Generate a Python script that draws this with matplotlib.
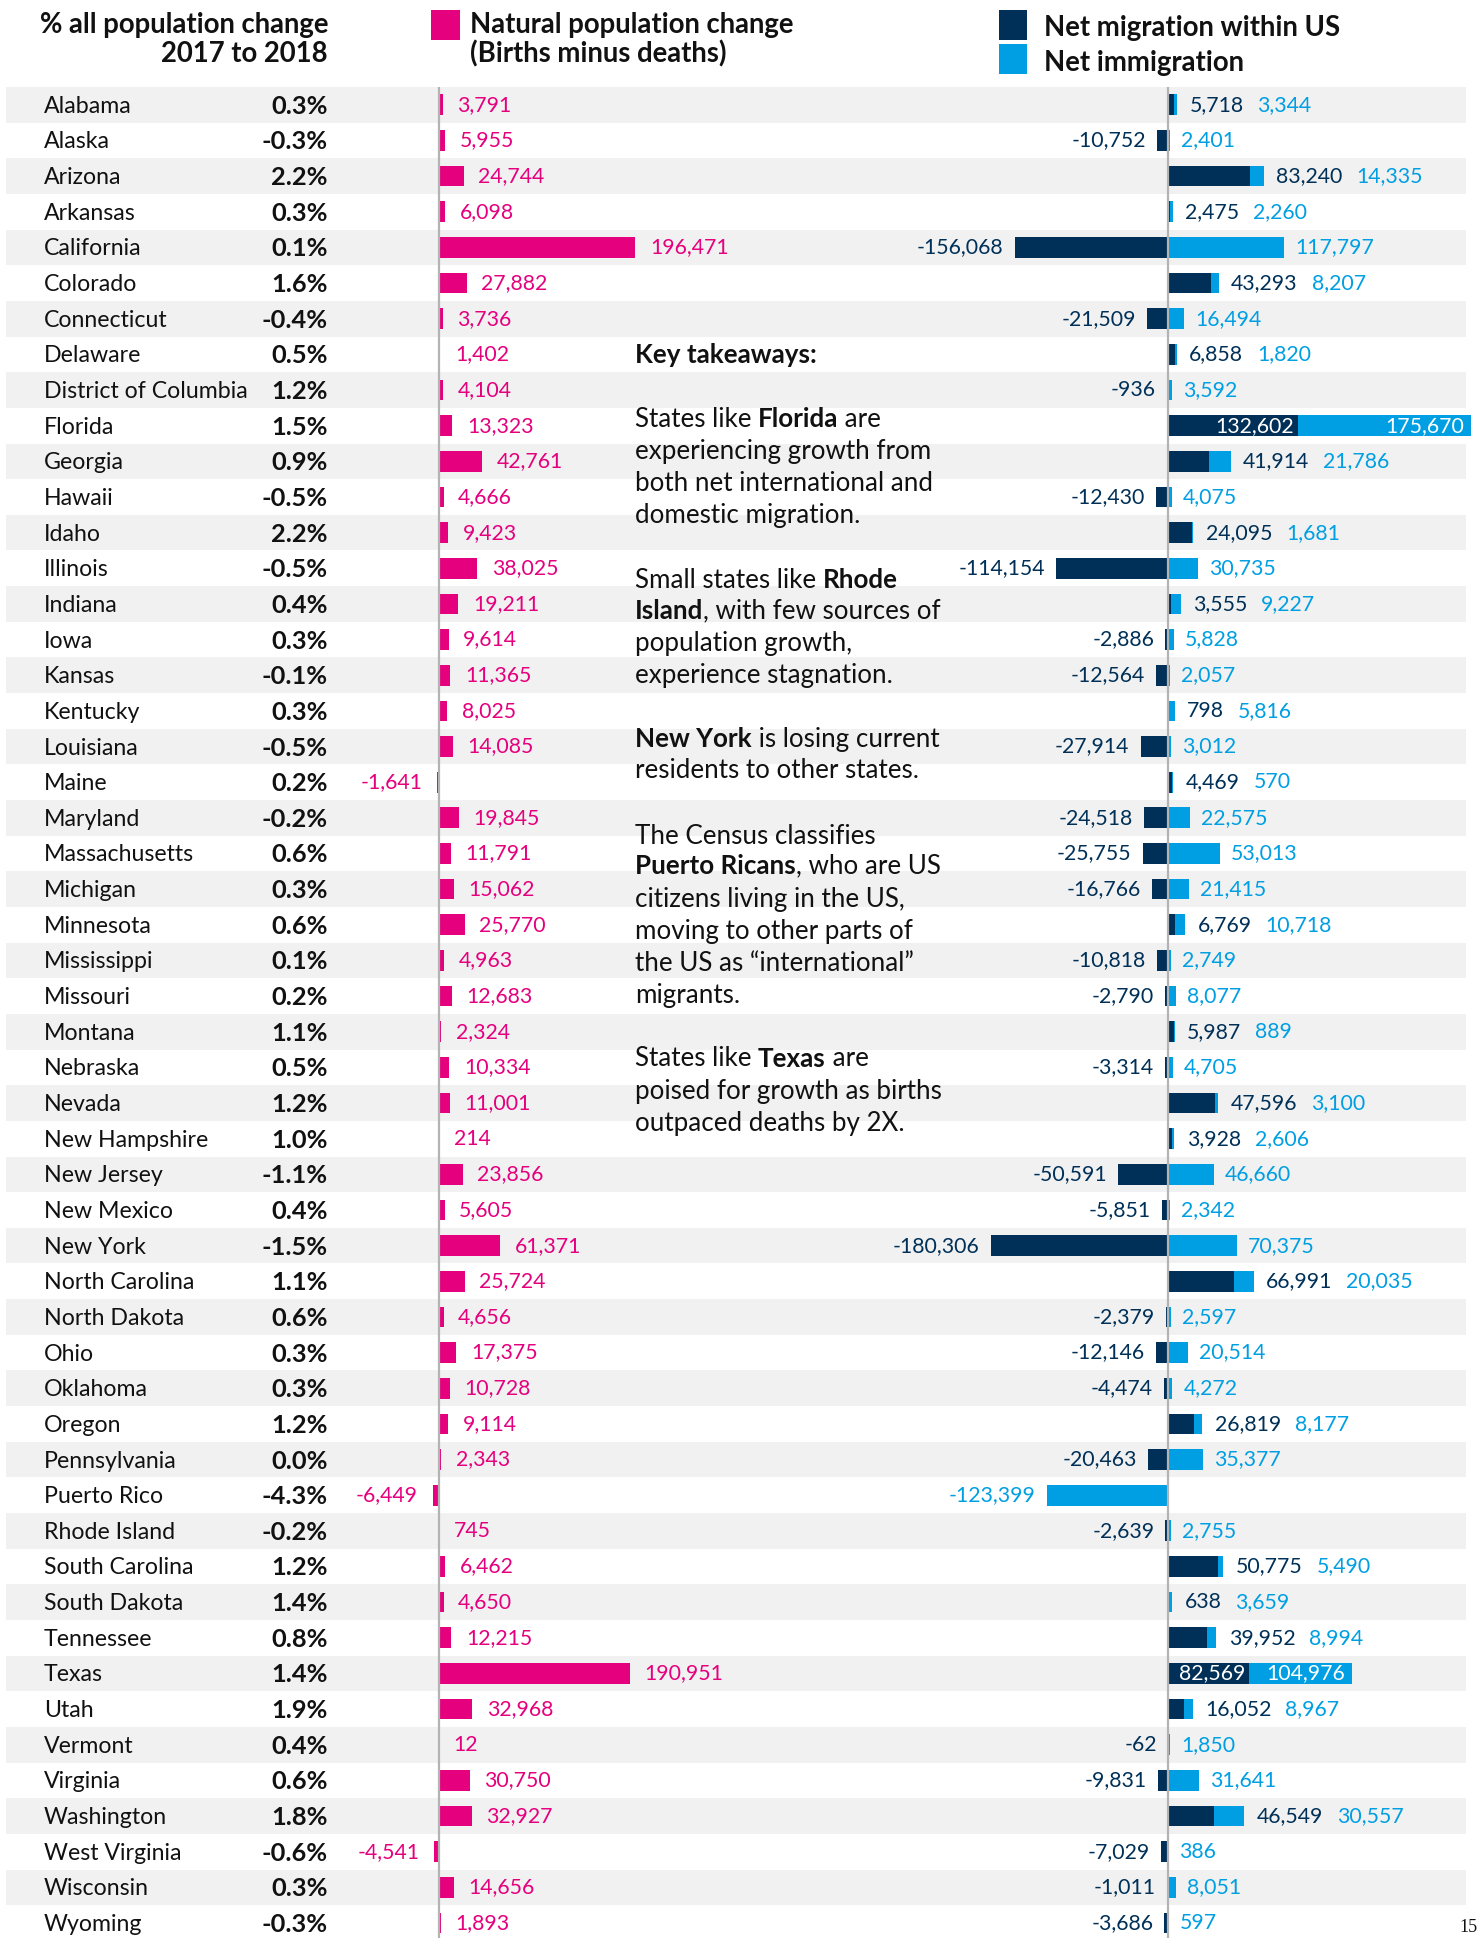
import matplotlib.pyplot as plt
from matplotlib.patches import Rectangle

# data
states = ['Alabama', 'Alaska', 'Arizona', 'Arkansas', 'California', 'Colorado', 'Connecticut',
          'Delaware', 'District of Columbia', 'Florida', 'Georgia', 'Hawaii', 'Idaho', 'Illinois',
          'Indiana', 'Iowa', 'Kansas', 'Kentucky', 'Louisiana', 'Maine', 'Maryland',
          'Massachusetts', 'Michigan', 'Minnesota', 'Mississippi', 'Missouri', 'Montana',
          'Nebraska', 'Nevada', 'New Hampshire', 'New Jersey', 'New Mexico', 'New York',
          'North Carolina', 'North Dakota', 'Ohio', 'Oklahoma', 'Oregon', 'Pennsylvania',
          'Puerto Rico', 'Rhode Island', 'South Carolina', 'South Dakota', 'Tennessee', 'Texas',
          'Utah', 'Vermont', 'Virginia', 'Washington', 'West Virginia', 'Wisconsin', 'Wyoming']
pct_change = ['0.3%', '-0.3%', '2.2%', '0.3%', '0.1%', '1.6%', '-0.4%', '0.5%', '1.2%', '1.5%',
              '0.9%', '-0.5%', '2.2%', '-0.5%', '0.4%', '0.3%', '-0.1%', '0.3%', '-0.5%', '0.2%',
              '-0.2%', '0.6%', '0.3%', '0.6%', '0.1%', '0.2%', '1.1%', '0.5%', '1.2%', '1.0%',
              '-1.1%', '0.4%', '-1.5%', '1.1%', '0.6%', '0.3%', '0.3%', '1.2%', '0.0%', '-4.3%',
              '-0.2%', '1.2%', '1.4%', '0.8%', '1.4%', '1.9%', '0.4%', '0.6%', '1.8%', '-0.6%',
              '0.3%', '-0.3%']
natural = [3791, 5955, 24744, 6098, 196471, 27882, 3736, 1402, 4104, 13323, 42761, 4666, 9423,
           38025, 19211, 9614, 11365, 8025, 14085, -1641, 19845, 11791, 15062, 25770, 4963,
           12683, 2324, 10334, 11001, 214, 23856, 5605, 61371, 25724, 4656, 17375, 10728, 9114,
           2343, -6449, 745, 6462, 4650, 12215, 190951, 32968, 12, 30750, 32927, -4541, 14656,
           1893]
domestic = [5718, -10752, 83240, 2475, -156068, 43293, -21509, 6858, -936, 132602, 41914,
            -12430, 24095, -114154, 3555, -2886, -12564, 798, -27914, 4469, -24518, -25755,
            -16766, 6769, -10818, -2790, 5987, -3314, 47596, 3928, -50591, -5851, -180306,
            66991, -2379, -12146, -4474, 26819, -20463, None, -2639, 50775, 638, 39952, 82569,
            16052, -62, -9831, 46549, -7029, -1011, -3686]
immigration = [3344, 2401, 14335, 2260, 117797, 8207, 16494, 1820, 3592, 175670, 21786, 4075,
               1681, 30735, 9227, 5828, 2057, 5816, 3012, 570, 22575, 53013, 21415, 10718, 2749,
               8077, 889, 4705, 3100, 2606, 46660, 2342, 70375, 20035, 2597, 20514, 4272, 8177,
               35377, -123399, 2755, 5490, 3659, 8994, 104976, 8967, 1850, 31641, 30557, 386,
               8051, 597]

PINK = '#e5007e'
NAVY = '#003057'
BLUE = '#009fe3'
GRID = '#b3b3b3'
TXT = '#111111'

plt.rcParams['font.family'] = ['Lato', 'DejaVu Sans']

W, H = 1482, 1938
fig = plt.figure(figsize=(W / 100, H / 100), dpi=100)

n = len(states)
top = 87
pitch = 35.65
rows_h = n * pitch
LBL = 15.3     # number labels
HEAD = 19.8    # header text

# background axes in pixel coordinates
bg = fig.add_axes([0, 0, 1, 1])
bg.set_xlim(0, W)
bg.set_ylim(H, 0)
bg.axis('off')

for i in range(0, n, 2):
    bg.add_patch(Rectangle((6, top + i * pitch), 1460, pitch, color='#f1f1f1', lw=0, zorder=0))

for i, (s, p) in enumerate(zip(states, pct_change)):
    yc = top + (i + 0.5) * pitch + 1.5
    bg.text(44, yc, s, fontsize=16.7, color=TXT, va='center', ha='left')
    bg.text(328, yc, p, fontsize=18.3, fontweight='bold', color=TXT, va='center', ha='right')

# header / legend
bg.text(328, 25, '% all population change', fontsize=HEAD, fontweight='bold', ha='right', va='center', color=TXT)
bg.text(328, 54, '2017 to 2018', fontsize=HEAD, fontweight='bold', ha='right', va='center', color=TXT)
bg.add_patch(Rectangle((431, 10), 29, 30, color=PINK, lw=0))
bg.text(470, 25, 'Natural population change', fontsize=HEAD, fontweight='bold', ha='left', va='center', color=TXT)
bg.text(470, 54, '(Births minus deaths)', fontsize=HEAD, fontweight='bold', ha='left', va='center', color=TXT)
bg.add_patch(Rectangle((999, 10), 28, 30, color=NAVY, lw=0))
bg.add_patch(Rectangle((999, 44), 28, 30, color=BLUE, lw=0))
bg.text(1044, 28, 'Net migration within US', fontsize=HEAD, fontweight='bold', ha='left', va='center', color=TXT)
bg.text(1044, 63, 'Net immigration', fontsize=HEAD, fontweight='bold', ha='left', va='center', color=TXT)

bg.text(1478, 1928, '15', fontsize=13, family='Liberation Serif', ha='right', va='center', color=TXT)


def rich(y, parts, x=635, size=18.7):
    prev = None
    for txt, bold in parts:
        w = 'bold' if bold else 'normal'
        if prev is None:
            prev = bg.text(x, y, txt, fontsize=size, fontweight=w, va='center', ha='left', color=TXT)
        else:
            prev = bg.annotate(txt, xy=(1, 0.5), xycoords=prev, va='center', ha='left',
                               fontsize=size, fontweight=w, color=TXT)


notes = [
    (355, [('Key takeaways:', True)]),
    (419, [('States like ', False), ('Florida', True), (' are', False)]),
    (451, [('experiencing growth from', False)]),
    (483, [('both net international and', False)]),
    (515, [('domestic migration.', False)]),
    (580, [('Small states like ', False), ('Rhode', True)]),
    (611, [('Island', True), (', with few sources of', False)]),
    (643, [('population growth,', False)]),
    (675, [('experience stagnation.', False)]),
    (739, [('New York', True), (' is losing current', False)]),
    (771, [('residents to other states.', False)]),
    (836, [('The Census classifies', False)]),
    (866, [('Puerto Ricans', True), (', who are US', False)]),
    (899, [('citizens living in the US,', False)]),
    (931, [('moving to other parts of', False)]),
    (963, [('the US as \u201cinternational\u201d', False)]),
    (995, [('migrants.', False)]),
    (1059, [('States like ', False), ('Texas', True), (' are', False)]),
    (1091, [('poised for growth as births', False)]),
    (1124, [('outpaced deaths by 2X.', False)]),
]
for y, parts in notes:
    rich(y, parts)

# bar axes
ax_pos = [0, 1 - (top + rows_h) / H, 1, rows_h / H]
rows = list(range(n))
bar_h = 0.58

nat = fig.add_axes(ax_pos)
nat.patch.set_visible(False)
k1 = 1000
nat.set_xlim(-439 * k1, (W - 439) * k1)
nat.set_ylim(n - 0.5, -0.5)
nat.axis('off')
nat.barh(rows, natural, height=bar_h, color=PINK, zorder=2)
nat.axvline(0, color=GRID, lw=1.6, zorder=3)
for i, v in enumerate(natural):
    if v >= 0:
        nat.annotate(f'{v:,}', (v, i), xytext=(10.5, 0), textcoords='offset points',
                     ha='left', va='center', fontsize=LBL, color=PINK)
    else:
        nat.annotate(f'{v:,}', (v, i), xytext=(-11, 0), textcoords='offset points',
                     ha='right', va='center', fontsize=LBL, color=PINK)

mig = fig.add_axes(ax_pos)
mig.patch.set_visible(False)
k2 = 1017
mig.set_xlim(-1168 * k2, (W - 1168) * k2)
mig.set_ylim(n - 0.5, -0.5)
mig.axis('off')

dom_vals = [d if d is not None else 0 for d in domestic]
imm_left = [d if (d > 0 and m > 0) else 0 for d, m in zip(dom_vals, immigration)]
mig.barh(rows, dom_vals, height=bar_h, color=NAVY, zorder=2)
mig.barh(rows, immigration, left=imm_left, height=bar_h, color=BLUE, zorder=2)
mig.axvline(0, color=GRID, lw=1.6, zorder=3)

for i, (d, m) in enumerate(zip(domestic, immigration)):
    if d is not None and d > 0 and d + m > 150000:
        # labels inside the bars
        mig.annotate(f'{d:,}', (d, i), xytext=(-3, 0), textcoords='offset points',
                     ha='right', va='center', fontsize=LBL, color='white', zorder=4)
        mig.annotate(f'{m:,}', (d + m, i), xytext=(-5, 0), textcoords='offset points',
                     ha='right', va='center', fontsize=LBL, color='white', zorder=4)
    elif d is not None and d >= 0:
        end = d + max(m, 0)
        t = mig.annotate(f'{d:,}', (end, i), xytext=(9, 0), textcoords='offset points',
                         ha='left', va='center', fontsize=LBL, color=NAVY)
        mig.annotate(f'{m:,}', xy=(1, 0.5), xycoords=t, xytext=(10, 0), textcoords='offset points',
                     ha='left', va='center', fontsize=LBL, color=BLUE)
    else:
        if d is not None:
            mig.annotate(f'{d:,}', (d, i), xytext=(-8, 0), textcoords='offset points',
                         ha='right', va='center', fontsize=LBL, color=NAVY)
        if m >= 0:
            mig.annotate(f'{m:,}', (m, i), xytext=(8, 0), textcoords='offset points',
                         ha='left', va='center', fontsize=LBL, color=BLUE)
        else:
            mig.annotate(f'{m:,}', (m, i), xytext=(-8, 0), textcoords='offset points',
                         ha='right', va='center', fontsize=LBL, color=BLUE)

fig.savefig('out.png', dpi=100)
